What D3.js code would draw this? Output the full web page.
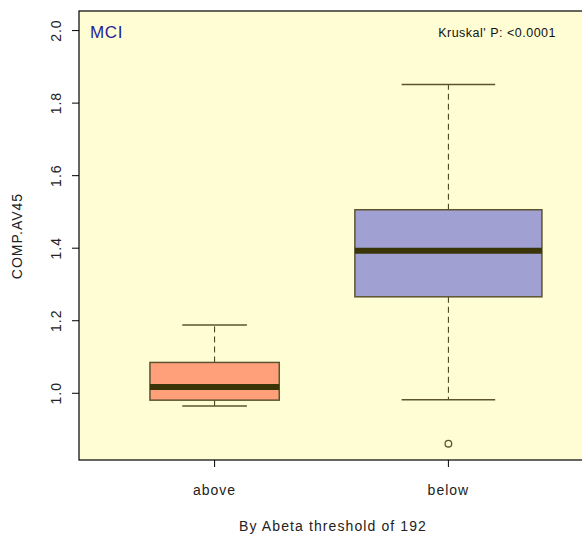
<!DOCTYPE html>
<html>
<head>
<meta charset="utf-8">
<script src="https://cdn.jsdelivr.net/npm/d3@7"></script>
<style>
  body { margin: 0; background: #fff; }
  text { font-family: "Liberation Sans", Arial, sans-serif; }
</style>
</head>
<body>
<div id="chart"></div>
<script>
// groups and their box stats
var groups = ['above', 'below'];
var whiskerLo = [0.965, 0.982];
var q1 = [0.981, 1.266];
var medians = [1.017, 1.393];
var q3 = [1.085, 1.506];
var whiskerHi = [1.188, 1.851];
var boxWidths = [0.553, 0.8];   // varwidth boxes, in x units
var outliers = [{g: 1, v: 0.861}];
var fills = ['#FFA07A', '#A0A0D3'];
var yTicks = [1.0, 1.2, 1.4, 1.6, 1.8, 2.0];

(function () {
  'use strict';

  var W = 582, H = 536;
  var plotL = 79, plotT = 11, plotB = 460, plotR = 584;

  var svg = d3.select('#chart').append('svg')
    .attr('width', W).attr('height', H);

  var x = d3.scaleLinear().domain([0.42, 2.58]).range([plotL, plotR]);
  var y = d3.scaleLinear().domain([0.816, 2.054]).range([plotB, plotT]);

  // plot background
  svg.append('rect')
    .attr('x', plotL).attr('y', plotT)
    .attr('width', plotR - plotL).attr('height', plotB - plotT)
    .attr('fill', '#FFFDD3')
    .attr('stroke', '#000').attr('stroke-width', 1.2);

  var boxes = svg.selectAll('g.box')
    .data(groups)
    .enter().append('g').attr('class', 'box');

  boxes.each(function (d, i) {
    var g = d3.select(this);
    var cx = x(i + 1);
    var hw = (x(boxWidths[i]) - x(0)) / 2;
    var line = '#5C5430';

    // whiskers
    g.append('line')
      .attr('x1', cx).attr('x2', cx)
      .attr('y1', y(q3[i])).attr('y2', y(whiskerHi[i]))
      .attr('stroke', '#3a3510').attr('stroke-dasharray', '6,4');
    g.append('line')
      .attr('x1', cx).attr('x2', cx)
      .attr('y1', y(q1[i])).attr('y2', y(whiskerLo[i]))
      .attr('stroke', '#3a3510').attr('stroke-dasharray', '6,4');
    [whiskerHi[i], whiskerLo[i]].forEach(function (v) {
      g.append('line')
        .attr('x1', cx - hw / 2).attr('x2', cx + hw / 2)
        .attr('y1', y(v)).attr('y2', y(v))
        .attr('stroke', line).attr('stroke-width', 1.5);
    });

    g.append('rect')
      .attr('x', cx - hw).attr('width', hw * 2)
      .attr('y', y(q3[i])).attr('height', y(q1[i]) - y(q3[i]))
      .attr('fill', fills[i])
      .attr('stroke', line).attr('stroke-width', 1.5);

    g.append('line')
      .attr('x1', cx - hw).attr('x2', cx + hw)
      .attr('y1', y(medians[i])).attr('y2', y(medians[i]))
      .attr('stroke', '#3A3508').attr('stroke-width', 6);
  });

  svg.selectAll('circle.out')
    .data(outliers)
    .enter().append('circle')
    .attr('class', 'out')
    .attr('cx', function (d) { return x(d.g + 1); })
    .attr('cy', function (d) { return y(d.v); })
    .attr('r', 3.3)
    .attr('fill', 'none')
    .attr('stroke', '#5C5430').attr('stroke-width', 1.3);

  // y axis (R style, rotated labels)
  var yAxis = svg.append('g');
  yTicks.forEach(function (t) {
    yAxis.append('line')
      .attr('x1', plotL - 7).attr('x2', plotL)
      .attr('y1', y(t)).attr('y2', y(t))
      .attr('stroke', '#000');
    yAxis.append('text')
      .attr('transform', 'translate(' + 61 + ',' + y(t) + ') rotate(-90)')
      .attr('text-anchor', 'middle')
      .attr('font-size', 14)
      .attr('letter-spacing', 1)
      .attr('fill', '#222')
      .text(d3.format('.1f')(t));
  });

  // x axis
  var xAxis = svg.append('g');
  groups.forEach(function (gname, i) {
    xAxis.append('line')
      .attr('x1', x(i + 1)).attr('x2', x(i + 1))
      .attr('y1', plotB).attr('y2', plotB + 7)
      .attr('stroke', '#000');
    xAxis.append('text')
      .attr('x', x(i + 1)).attr('y', 495)
      .attr('text-anchor', 'middle')
      .attr('font-size', 14)
      .attr('letter-spacing', 1)
      .attr('fill', '#222')
      .text(gname);
  });

  svg.append('text')
    .attr('x', 333).attr('y', 531)
    .attr('text-anchor', 'middle')
    .attr('font-size', 14).attr('letter-spacing', 1.1).attr('fill', '#222')
    .text('By Abeta threshold of 192');

  svg.append('text')
    .attr('transform', 'translate(22,236) rotate(-90)')
    .attr('text-anchor', 'middle')
    .attr('font-size', 14).attr('letter-spacing', 1).attr('fill', '#222')
    .text('COMP.AV45');

  svg.append('text')
    .attr('x', 90).attr('y', 38)
    .attr('font-size', 17).attr('fill', '#1F1F9A')
    .attr('letter-spacing', 0.6)
    .text('MCI');

  svg.append('text')
    .attr('x', 556).attr('y', 37)
    .attr('text-anchor', 'end')
    .attr('font-size', 12.5).attr('letter-spacing', 0.5).attr('fill', '#111')
    .text("Kruskal' P: <0.0001");
})();
</script>
</body>
</html>
